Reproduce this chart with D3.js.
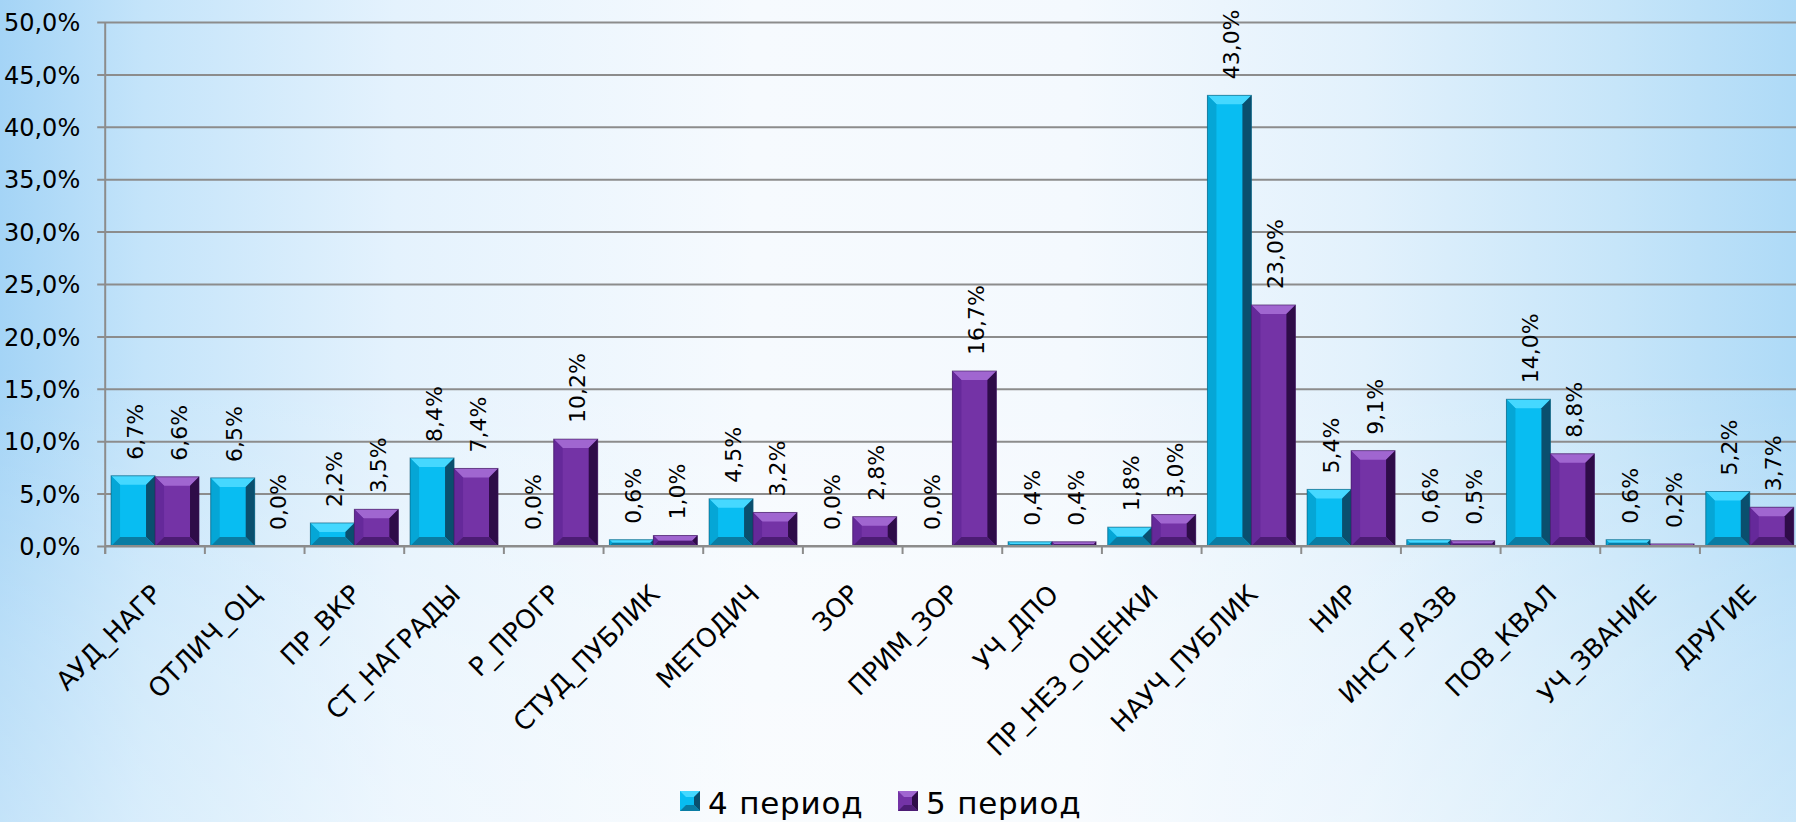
<!DOCTYPE html>
<html>
<head>
<meta charset="utf-8">
<script src="https://cdn.jsdelivr.net/npm/d3@7"></script>
<style>
  html, body { margin: 0; padding: 0; overflow: hidden; }
  svg { display: block; }
  text { font-family: "DejaVu Sans", sans-serif; fill: #000; }
</style>
</head>
<body>
<script>
// ---- data ----
const categories = ["АУД_НАГР","ОТЛИЧ_ОЦ","ПР_ВКР","СТ_НАГРАДЫ","Р_ПРОГР","СТУД_ПУБЛИК","МЕТОДИЧ","ЗОР","ПРИМ_ЗОР","УЧ_ДПО","ПР_НЕЗ_ОЦЕНКИ","НАУЧ_ПУБЛИК","НИР","ИНСТ_РАЗВ","ПОВ_КВАЛ","УЧ_ЗВАНИЕ","ДРУГИЕ"];
const seriesNames = ["4 период", "5 период"];
const period4 = [6.7, 6.5, 2.2, 8.4, 0.0, 0.6, 4.5, 0.0, 0.0, 0.4, 1.8, 43.0, 5.4, 0.6, 14.0, 0.6, 5.2];
const period5 = [6.6, 0.0, 3.5, 7.4, 10.2, 1.0, 3.2, 2.8, 16.7, 0.4, 3.0, 23.0, 9.1, 0.5, 8.8, 0.2, 3.7];
const yTicks = [0, 5, 10, 15, 20, 25, 30, 35, 40, 45, 50];

// ---- layout ----
const W = 1796, H = 822;
const plot = { left: 105.2, right: 1799.6, top: 22, bottom: 546 };
const colors = [
  { base: "#08BDF2", top: "#45D8FF", left: "#05A6D6", right: "#0A4F6E", bottom: "#0A7CA3", stroke: "#0B5572" },
  { base: "#7433A6", top: "#A066D0", left: "#65299A", right: "#2E0C48", bottom: "#4C1C74", stroke: "#3A1558" }
];
const fmt = v => d3.format(".1f")(v).replace(".", ",") + "%";

const svg = d3.select("body").append("svg").attr("width", W).attr("height", H);
const defs = svg.append("defs");

// background
const bg = defs.append("linearGradient").attr("id", "bgH").attr("x1", 0).attr("x2", 1).attr("y1", 0).attr("y2", 0);
[[0, "#A4D4F6"], [0.08, "#C4E4FA"], [0.22, "#E4F2FD"], [0.42, "#F6FAFE"], [0.6, "#F4F9FE"], [0.76, "#E2F1FC"], [0.9, "#C6E5F9"], [1, "#AEDAF7"]]
  .forEach(([o, c]) => bg.append("stop").attr("offset", o).attr("stop-color", c));
const bgV = defs.append("linearGradient").attr("id", "bgV").attr("x1", 0).attr("x2", 0).attr("y1", 0).attr("y2", 1);
[[0, "#ffffff", 0.0], [0.45, "#ffffff", 0.0], [0.8, "#ffffff", 0.25], [1, "#ffffff", 0.35]]
  .forEach(([o, c, a]) => bgV.append("stop").attr("offset", o).attr("stop-color", c).attr("stop-opacity", a));
svg.append("rect").attr("width", W).attr("height", H).attr("fill", "url(#bgH)");
svg.append("rect").attr("width", W).attr("height", H).attr("fill", "url(#bgV)");

// scales
const x = d3.scaleBand().domain(categories).range([plot.left, plot.right]).padding(0);
const xs = d3.scaleBand().domain(seriesNames).range([0, x.bandwidth()]).paddingInner(0).paddingOuter(0.133);
const y = d3.scaleLinear().domain([0, 50]).range([plot.bottom, plot.top]);

// gridlines + y axis
const yAxis = d3.axisLeft(y).tickValues(yTicks).tickFormat(fmt)
  .tickSize(-(W - plot.left + 10)).tickPadding(25);
const gy = svg.append("g").attr("transform", `translate(${plot.left},0)`).call(yAxis);
gy.select(".domain").remove();
gy.selectAll(".tick line").attr("x1", -8).attr("x2", W - plot.left + 10)
  .attr("stroke", "#8C8C8C").attr("stroke-width", 2);
gy.selectAll(".tick text").attr("font-size", 24).attr("fill", "#000")
  .attr("font-family", "'DejaVu Sans',sans-serif").attr("dy", "0.36em");

// y axis line
svg.append("line").attr("x1", plot.left).attr("x2", plot.left).attr("y1", plot.top).attr("y2", plot.bottom + 8)
  .attr("stroke", "#8C8C8C").attr("stroke-width", 2);

// bars
const rows = categories.map((c, i) => ({ cat: c, vals: [period4[i], period5[i]] }));
const gBars = svg.append("g");
const P = pts => pts.map(p => p.join(",")).join(" ");
rows.forEach(r => {
  r.vals.forEach((v, si) => {
    const bx = x(r.cat) + xs(seriesNames[si]);
    const bw = xs.bandwidth();
    const by = y(v);
    const bh = y(0) - by;
    if (bh <= 0.01) return;
    const col = colors[si];
    const b = Math.min(9, bh / 2, bw / 2);
    const g = gBars.append("g");
    g.append("rect").attr("x", bx).attr("y", by).attr("width", bw).attr("height", bh).attr("fill", col.base);
    g.append("polygon").attr("points", P([[bx, by], [bx + bw, by], [bx + bw - b, by + b], [bx + b, by + b]])).attr("fill", col.top);
    g.append("polygon").attr("points", P([[bx, by], [bx + b, by + b], [bx + b, by + bh - b], [bx, by + bh]])).attr("fill", col.left);
    g.append("polygon").attr("points", P([[bx + bw, by], [bx + bw, by + bh], [bx + bw - b, by + bh - b], [bx + bw - b, by + b]])).attr("fill", col.right);
    g.append("polygon").attr("points", P([[bx, by + bh], [bx + bw, by + bh], [bx + bw - b, by + bh - b], [bx + b, by + bh - b]])).attr("fill", col.bottom);
    g.append("rect").attr("x", bx).attr("y", by).attr("width", bw).attr("height", bh)
      .attr("fill", "none").attr("stroke", col.stroke).attr("stroke-width", 1).attr("stroke-opacity", 0.6);
  });
});

// data labels
rows.forEach(r => {
  r.vals.forEach((v, si) => {
    const cx = x(r.cat) + xs(seriesNames[si]) + xs.bandwidth() / 2 + 2;
    const ty = y(v) - 16;
    svg.append("text").attr("transform", `translate(${cx},${ty}) rotate(-90)`)
      .attr("text-anchor", "start").attr("dominant-baseline", "central")
      .attr("font-size", 22).text(fmt(v));
  });
});

// x axis line and boundary ticks
svg.append("line").attr("x1", plot.left).attr("x2", W + 5).attr("y1", plot.bottom).attr("y2", plot.bottom)
  .attr("stroke", "#8C8C8C").attr("stroke-width", 2);
const bounds = categories.map(c => x(c)).concat([x.range()[1]]);
svg.append("g").selectAll("line").data(bounds).join("line")
  .attr("x1", d => d).attr("x2", d => d).attr("y1", plot.bottom).attr("y2", plot.bottom + 8)
  .attr("stroke", "#8C8C8C").attr("stroke-width", 2);

// category labels
svg.append("g").selectAll("text").data(categories).join("text")
  .attr("transform", c => `translate(${x(c) + x.bandwidth() / 2 + 8},${plot.bottom + 50}) rotate(-45)`)
  .attr("text-anchor", "end").attr("font-size", 26).text(c => c);

// legend
const legendX = [680, 898];
const lg = svg.append("g");
seriesNames.forEach((s, si) => {
  const col = colors[si];
  const mx = legendX[si], my = 791, ms = 20, b = 6;
  lg.append("rect").attr("x", mx).attr("y", my).attr("width", ms).attr("height", ms).attr("fill", col.base);
  lg.append("polygon").attr("points", P([[mx, my], [mx + ms, my], [mx + ms - b, my + b], [mx + b, my + b]])).attr("fill", col.top);
  lg.append("polygon").attr("points", P([[mx + ms, my], [mx + ms, my + ms], [mx + ms - b, my + ms - b], [mx + ms - b, my + b]])).attr("fill", col.right);
  lg.append("polygon").attr("points", P([[mx, my + ms], [mx + ms, my + ms], [mx + ms - b, my + ms - b], [mx + b, my + ms - b]])).attr("fill", col.bottom);
  lg.append("text").attr("x", mx + 28).attr("y", 814).attr("font-size", 31).attr("letter-spacing", 0.8)
    .text(s);
});
</script>
</body>
</html>
